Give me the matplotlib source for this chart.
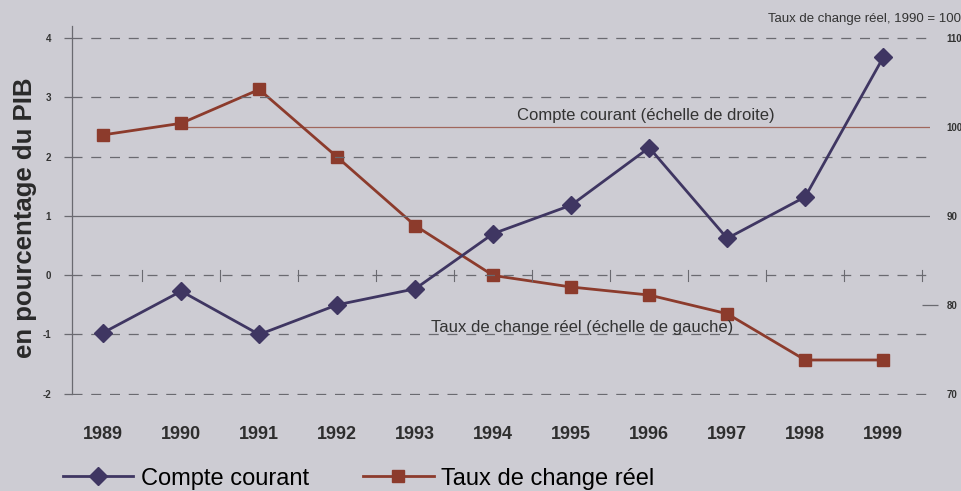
import matplotlib.pyplot as plt

plt.rcParams['font.family'] = ['Liberation Sans', 'DejaVu Sans']
plt.rcParams['axes.unicode_minus'] = False

years = [1989, 1990, 1991, 1992, 1993, 1994, 1995, 1996, 1997, 1998, 1999]
compte_courant = [-0.97, -0.27, -1.0, -0.5, -0.23, 0.7, 1.18, 2.15, 0.62, 1.32, 3.67]
taux_change = [99.1, 100.4, 104.2, 96.6, 88.9, 83.3, 82.0, 81.1, 79.0, 73.8, 73.8]
left_ticks = [-2, -1, 0, 1, 2, 3, 4]
right_ticks = [70, 80, 90, 100, 110]

bg = '#cdccd3'
blue = '#3f3662'
red = '#8c3b2c'
grid_col = '#6a6a70'

fig = plt.figure(figsize=(9.62, 4.91), dpi=100, facecolor=bg)
ax = fig.add_axes([72 / 962, 1 - 395 / 491, (930 - 72) / 962, (395 - 26) / 491])
ax.set_facecolor('none')
ax.set_xlim(1988.6, 1999.6)
ax.set_ylim(-2.02, 4.2)

# dashed grid lines, solid at 1
for v in left_ticks:
    if v == 1:
        ax.axhline(v, color=grid_col, lw=0.9, zorder=1)
    else:
        ax.axhline(v, color=grid_col, lw=0.9, ls=(0, (8, 7)), zorder=1)

for s in ['top', 'right', 'bottom']:
    ax.spines[s].set_visible(False)
ax.spines['left'].set_color(grid_col)
ax.spines['left'].set_linewidth(0.9)
ax.spines['left'].set_bounds(-2, 4.2)
ax.set_yticks(left_ticks)
ax.tick_params(axis='y', length=6, color=grid_col, width=0.9, labelsize=7, pad=9)
for t in ax.get_yticklabels():
    t.set_fontweight('bold')
    t.set_color('#333333')

# x axis: year labels, small crossing marks on the zero line
ax.set_xticks(years)
ax.set_xticklabels([str(y) for y in years], fontsize=13, fontweight='bold', color='#2e2e2e')
ax.tick_params(axis='x', length=0, pad=22)
for y in years:
    ax.plot([y + 0.5, y + 0.5], [-0.09, 0.09], color=grid_col, lw=0.8, zorder=1)

ax.set_ylabel('en pourcentage du PIB', fontsize=18.5, fontweight='bold', color='#2a2a2a')
ax.yaxis.set_label_coords(-0.041, 0.48)

ax2 = ax.twinx()
ax2.set_ylim(70 - 0.02 * 40 / 6, 70 + 6.2 * 40 / 6)
for s in ax2.spines.values():
    s.set_visible(False)
ax2.yaxis.remove_overlapping_locs = False
ax2.set_yticks(right_ticks)
ax2.tick_params(axis='y', which='major', length=0, labelsize=7, pad=12)
ax2.set_yticks([80], minor=True)
ax2.tick_params(axis='y', which='minor', length=12, direction='inout', color=grid_col, width=0.9)
for t in ax2.get_yticklabels():
    t.set_fontweight('bold')
    t.set_color('#333333')
ax2.hlines(100, 1990.05, 1999.6, color='#a0675c', lw=0.9, zorder=1)

l2, = ax2.plot(years, taux_change, color=red, lw=2, marker='s', ms=8.5, zorder=3,
               label='Taux de change réel')
l1, = ax.plot(years, compte_courant, color=blue, lw=2, marker='D', ms=9, zorder=4,
              label='Compte courant')
ax.set_zorder(ax2.get_zorder() + 1)

ax.text(1994.3, 2.62, 'Compte courant (échelle de droite)', fontsize=12, color='#333333')
ax.text(1993.2, -0.95, 'Taux de change réel (échelle de gauche)', fontsize=12, color='#333333')
fig.text(0.999, 0.955, 'Taux de change réel, 1990 = 100', fontsize=9.5, color='#333333', ha='right')

fig.legend(handles=[l1, l2], loc='center left', bbox_to_anchor=(0.043, 0.025), ncol=2,
           frameon=False, fontsize=17, handlelength=3.0, handletextpad=0.3, columnspacing=2.3)

fig.savefig('out.png', dpi=100, facecolor=bg)
